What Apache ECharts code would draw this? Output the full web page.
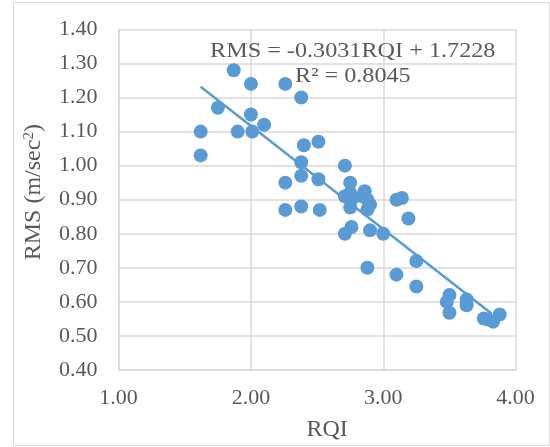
<!DOCTYPE html>
<html>
<head>
<meta charset="utf-8">
<script src="https://cdn.jsdelivr.net/npm/echarts@6/dist/echarts.min.js"></script>
<style>html,body{margin:0;padding:0;background:#fff}#c{width:550px;height:447px}</style>
</head>
<body>
<div id="c"></div>
<script>
var rqi = [1.87,2.00,2.26,2.38,1.75,2.00,1.62,1.90,2.01,2.10,1.62,2.51,2.40,2.38,2.38,2.26,2.51,2.26,2.38,2.52,
  2.71,2.75,2.86,2.75,2.71,2.88,2.90,2.76,2.75,2.88,2.84,2.71,2.76,2.90,3.00,2.88,3.10,3.14,3.19,3.25,
  3.10,3.25,3.50,3.48,3.50,3.63,3.63,3.76,3.83,3.88,3.79];
var rms = [1.28,1.24,1.24,1.20,1.17,1.15,1.10,1.10,1.10,1.12,1.03,1.07,1.06,1.01,0.97,0.95,0.96,0.87,0.88,0.87,
  1.00,0.95,0.925,0.92,0.91,0.90,0.886,0.90,0.877,0.871,0.91,0.80,0.82,0.81,0.80,0.70,0.90,0.905,0.845,0.72,
  0.68,0.645,0.62,0.60,0.568,0.607,0.59,0.551,0.542,0.563,0.548];
var trendCoef = [-0.3031, 1.7228];
var trendRange = [1.62, 3.82];
var xTicks = [1, 2, 3, 4];
var yTicks = [0.4, 0.5, 0.6, 0.7, 0.8, 0.9, 1.0, 1.1, 1.2, 1.3, 1.4];

var pts = rqi.map(function(x, i){ return [x, rms[i]]; });
var trend = trendRange.map(function(x){ return [x, trendCoef[0]*x + trendCoef[1]]; });
var font = '"Liberation Serif","Times New Roman",serif';
var gray = '#595959';

var chart = echarts.init(document.getElementById('c'));
chart.setOption({
  animation: false,
  backgroundColor: '#fff',
  grid: {left: 118.6, right: 34.4, top: 29.4, bottom: 76},
  graphic: [
    {type: 'rect', shape: {x: 13.5, y: 2.5, width: 536, height: 443}, style: {fill: 'none', stroke: '#d9d9d9', lineWidth: 1}, silent: true},
    {type: 'text', x: 210, y: 40, scaleX: 1.1, style: {text: 'RMS = -0.3031RQI + 1.7228', font: '22px ' + font, fill: gray, verticalAlign: 'top'}, z: 10},
    {type: 'text', x: 295, y: 65, scaleX: 1.1, style: {text: 'R² = 0.8045', font: '22px ' + font, fill: gray, verticalAlign: 'top'}, z: 10}
  ],
  xAxis: {
    type: 'value', min: 1, max: 4, interval: 1,
    name: 'RQI', nameLocation: 'middle', nameGap: 48,
    nameTextStyle: {fontFamily: font, fontSize: 24, color: gray, padding: [0, 0, 0, 20]},
    axisLine: {show: true, lineStyle: {color: '#d9d9d9', width: 1.5}},
    axisTick: {show: false},
    axisLabel: {fontFamily: font, fontSize: 22, color: gray, margin: 17, formatter: function(v){ return v.toFixed(2); }},
    splitLine: {show: true, lineStyle: {color: '#d9d9d9', width: 1.5}}
  },
  yAxis: {
    type: 'value', min: 0.4, max: 1.4, interval: 0.1,
    name: 'RMS (m/sec{sup|2})', nameLocation: 'middle', nameGap: 72, nameRotate: 90,
    nameTextStyle: {fontFamily: font, fontSize: 24, color: gray, padding: [0, 0, 0, 15],
      rich: {sup: {fontFamily: font, fontSize: 15, color: gray, verticalAlign: 'top', padding: [0, 0, 10, 0]}}},
    axisLine: {show: true, lineStyle: {color: '#d9d9d9', width: 1.5}},
    axisTick: {show: false},
    axisLabel: {fontFamily: font, fontSize: 22, color: gray, margin: 21, formatter: function(v){ return v.toFixed(2); }},
    splitLine: {show: true, lineStyle: {color: '#d9d9d9', width: 1.5}}
  },
  series: [
    {type: 'line', data: trend, showSymbol: false, symbol: 'none', lineStyle: {color: '#5b9bd5', width: 2.5}, z: 3},
    {type: 'scatter', data: pts, symbol: 'circle', symbolSize: 14, itemStyle: {color: '#5b9bd5', opacity: 1}, z: 4}
  ]
});
</script>
</body>
</html>
